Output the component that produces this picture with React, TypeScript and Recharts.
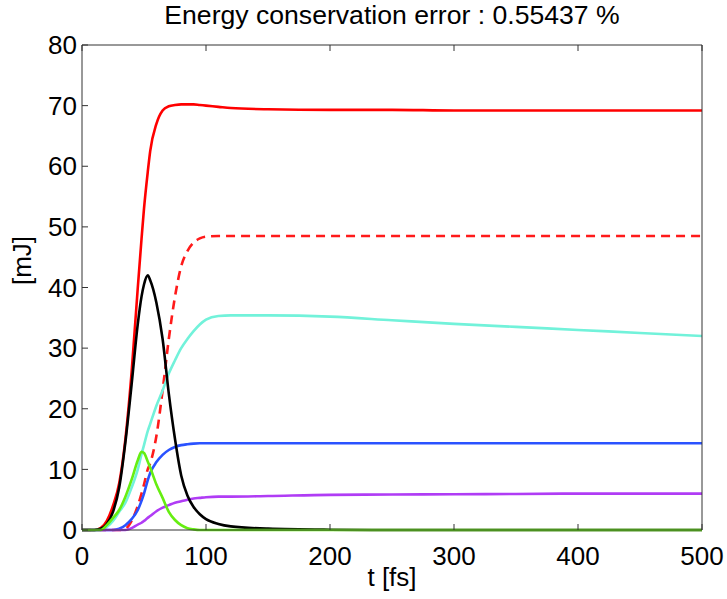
import { LineChart, Line, XAxis, YAxis } from "recharts";

const FONT = '"Liberation Sans", Arial, Helvetica, sans-serif';

// time grid (fs)
const tGrid = [0, 10, 15, 20, 25, 30, 35, 40, 45, 48, 50, 53, 55, 60, 65, 70, 75, 80, 85, 90, 95, 100, 110, 120, 150, 200, 250, 300, 350, 400, 450, 500];

// energies (mJ)
const redSolid = [0, 0, 0.3, 1.5, 4, 7.7, 15, 26, 40, 48, 53, 59, 62.5, 67, 69.2, 69.9, 70.1, 70.2, 70.2, 70.2, 70.1, 70.0, 69.8, 69.6, 69.4, 69.3, 69.3, 69.2, 69.2, 69.2, 69.2, 69.2];
const redDashed = [0, 0, 0, 0, 0, 0, 0.2, 1.5, 4, 6, 7.5, 10, 11, 15.5, 23, 31.5, 38.5, 43.5, 46, 47.4, 48.1, 48.4, 48.5, 48.5, 48.5, 48.5, 48.5, 48.5, 48.5, 48.5, 48.5, 48.5];
const cyan = [0, 0, 0, 0.5, 1.5, 3, 4.5, 7, 10, 12.5, 14, 16.3, 17.5, 20.5, 23, 25.8, 28, 30, 31.5, 32.8, 33.9, 34.7, 35.3, 35.4, 35.4, 35.2, 34.6, 34, 33.5, 33, 32.5, 32];
const blue = [0, 0, 0, 0, 0, 0.2, 0.8, 1.8, 3.3, 4.8, 6, 8.2, 9.4, 11.2, 12.4, 13.2, 13.7, 14.0, 14.15, 14.25, 14.3, 14.3, 14.3, 14.3, 14.3, 14.3, 14.3, 14.3, 14.3, 14.3, 14.3, 14.3];
const purple = [0, 0, 0, 0, 0, 0, 0, 0.3, 0.9, 1.2, 1.5, 2, 2.3, 3.1, 3.7, 4.1, 4.5, 4.75, 5.0, 5.2, 5.3, 5.4, 5.5, 5.5, 5.6, 5.8, 5.85, 5.9, 5.95, 6.0, 6.0, 6.0];
const black = [0, 0, 0.2, 1, 3, 7, 14.5, 24, 34, 38.5, 40.5, 42, 41.2, 37.5, 31.5, 22.5, 15, 9, 5.7, 3.8, 2.6, 1.8, 1.0, 0.6, 0.22, 0.05, 0, 0, 0, 0, 0, 0];
const green = [0, 0, 0, 0.8, 2, 3.3, 5.5, 8.3, 11.5, 12.9, 12.7, 11.3, 10.3, 7.5, 5.3, 3.0, 1.65, 0.8, 0.3, 0.1, 0, 0, 0, 0, 0, 0, 0, 0, 0, 0, 0, 0];

const xTicks = [0, 100, 200, 300, 400, 500];
const yTicks = [0, 10, 20, 30, 40, 50, 60, 70, 80];

const data = tGrid.map((t, i) => ({
  t,
  redSolid: redSolid[i],
  redDashed: redDashed[i],
  cyan: cyan[i],
  blue: blue[i],
  purple: purple[i],
  black: black[i],
  green: green[i],
}));

const series = [
  { key: "redSolid", color: "#ff0000", dash: undefined },
  { key: "redDashed", color: "#ff1a1a", dash: "9 6" },
  { key: "cyan", color: "#72f2da", dash: undefined },
  { key: "blue", color: "#2a52ff", dash: undefined },
  { key: "purple", color: "#b03cf5", dash: undefined },
  { key: "black", color: "#000000", dash: undefined },
  { key: "green", color: "#66ee11", dash: undefined },
];

const tickStyle = { fontSize: 26, fill: "#000", fontFamily: FONT };
const axisStroke = { stroke: "#333", strokeWidth: 1 };

export default function App() {
  return (
    <div style={{ position: "absolute", left: 0, top: 0, width: 727, height: 599, background: "#fff", fontFamily: FONT }}>
      <div
        style={{
          position: "absolute",
          left: 82,
          top: 1,
          width: 620,
          textAlign: "center",
          fontSize: 26.6,
          lineHeight: "29px",
          color: "#000",
        }}
      >
        Energy conservation error : 0.55437 %
      </div>
      <LineChart width={727} height={599} data={data} margin={{ top: 44, right: 24, left: 22, bottom: 39 }}>
        <XAxis
          dataKey="t"
          type="number"
          domain={[0, 500]}
          ticks={xTicks}
          allowDataOverflow
          tick={tickStyle}
          tickSize={-6}
          tickMargin={23}
          tickLine={axisStroke}
          axisLine={axisStroke}
          height={30}
          interval={0}
          label={{ value: "t [fs]", position: "bottom", offset: 8, style: { fontSize: 26, fill: "#000", fontFamily: FONT } }}
        />
        <XAxis
          xAxisId="top"
          orientation="top"
          dataKey="t"
          type="number"
          domain={[0, 500]}
          ticks={xTicks}
          tickFormatter={() => ""}
          tickSize={-6}
          tickLine={axisStroke}
          axisLine={axisStroke}
          height={1}
          interval={0}
        />
        <YAxis
          type="number"
          domain={[0, 80]}
          ticks={yTicks}
          tick={tickStyle}
          tickSize={-6}
          tickMargin={11}
          tickLine={axisStroke}
          axisLine={axisStroke}
          width={60}
          interval={0}
          label={{
            content: (p: any) => {
              const vb = p.viewBox || { x: 22, y: 45, width: 60, height: 485 };
              const cx = vb.x;
              const cy = vb.y + vb.height / 2 - 27;
              return (
                <text
                  x={cx}
                  y={cy}
                  transform={`rotate(-90, ${cx}, ${cy})`}
                  textAnchor="middle"
                  dominantBaseline="central"
                  style={{ fontSize: 26, fill: "#000", fontFamily: FONT }}
                >
                  [mJ]
                </text>
              );
            },
          }}
        />
        <YAxis
          yAxisId="right"
          orientation="right"
          type="number"
          domain={[0, 80]}
          ticks={yTicks}
          tickFormatter={() => ""}
          tickSize={-6}
          tickLine={axisStroke}
          axisLine={axisStroke}
          width={1}
          interval={0}
        />
        {series.map((s) => (
          <Line
            key={s.key}
            type="monotone"
            dataKey={s.key}
            stroke={s.color}
            strokeWidth={2.6}
            strokeDasharray={s.dash}
            dot={false}
            activeDot={false}
            isAnimationActive={false}
          />
        ))}
      </LineChart>
    </div>
  );
}
